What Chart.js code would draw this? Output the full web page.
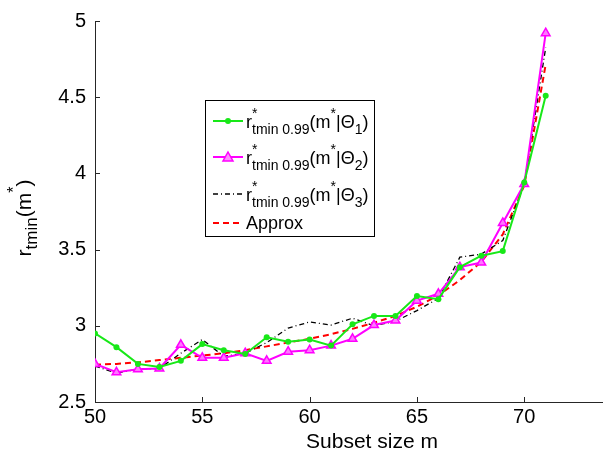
<!DOCTYPE html>
<html><head><meta charset="utf-8">
<script src="https://cdn.jsdelivr.net/npm/chart.js@4"></script>
<style>html,body{margin:0;padding:0;background:#fff;}#wrap{width:603px;height:461px;position:relative;}</style>
</head><body><div id="wrap"><canvas id="c" width="603" height="461"></canvas></div>
<script>
const subsetSizes = [50,51,52,53,54,55,56,57,58,59,60,61,62,63,64,65,66,67,68,69,70,71];
const theta1 = [2.95,2.86,2.75,2.73,2.77,2.88,2.84,2.815,2.925,2.895,2.91,2.87,3.01,3.065,3.065,3.195,3.175,3.385,3.46,3.49,3.94,4.51];
const theta2 = [2.75,2.695,2.715,2.72,2.875,2.79,2.79,2.82,2.77,2.83,2.84,2.87,2.915,3.005,3.035,3.165,3.21,3.385,3.415,3.675,3.93,4.92];
const theta3 = [2.735,2.69,2.715,2.72,2.82,2.91,2.80,2.82,2.89,2.985,3.025,3.005,3.05,3.0,3.03,3.10,3.18,3.45,3.47,3.56,3.93,4.825];
const approx = [2.745,2.75,2.76,2.775,2.79,2.805,2.82,2.84,2.865,2.89,2.915,2.945,2.98,3.02,3.065,3.125,3.2,3.3,3.42,3.6,3.92,4.715];
const xTicks = [50,55,60,65,70];
const yTicks = [2.5,3,3.5,4,4.5,5];
const xTitle = 'Subset size m';
const approxLabel = 'Approx';

const FONT = '"Liberation Sans", Arial, Helvetica, sans-serif';
const GREEN = 'rgb(24,232,24)';
const MAGENTA = 'rgb(255,0,255)';
const toXY = arr => arr.map((v,i)=>({x:subsetSizes[i], y:v}));

function drawRich(ctx, parts, x, y){
  let cx = x;
  for(const p of parts){
    ctx.font = p.size + 'px ' + FONT;
    ctx.fillText(p.t, cx, y + (p.dy||0));
    if(!p.noAdv) cx += ctx.measureText(p.t).width;
  }
  return cx;
}
function richWidth(ctx, parts){
  let w=0;
  for(const p of parts){ ctx.font = p.size+'px '+FONT; if(!p.noAdv) w += ctx.measureText(p.t).width; }
  return w;
}
function entryParts(n){
  return [
    {t:'r',size:18},
    {t:'*',size:14,dy:-10,noAdv:true},
    {t:'tmin 0.99',size:14,dy:6},
    {t:'(m',size:18},
    {t:'*',size:14,dy:-10},
    {t:'|\u0398',size:18},
    {t:String(n),size:14,dy:6},
    {t:')',size:18}
  ];
}

const decor = {
  id:'decor',
  afterDraw(chart){
    const ctx = chart.ctx;
    const xs = chart.scales.x, ys = chart.scales.y;
    const a = chart.chartArea;
    ctx.save();
    // inward ticks
    ctx.strokeStyle = '#262626'; ctx.lineWidth = 1;
    ctx.beginPath();
    for(const t of xTicks){ const px = Math.round(xs.getPixelForValue(t))+0.5; ctx.moveTo(px, a.bottom); ctx.lineTo(px, a.bottom-5); }
    for(const t of yTicks){ const py = Math.round(ys.getPixelForValue(t))+0.5; ctx.moveTo(a.left, py); ctx.lineTo(a.left+5, py); }
    ctx.stroke();
    // x title
    ctx.fillStyle = '#000';
    ctx.font = '21px ' + FONT;
    ctx.textAlign = 'center'; ctx.textBaseline = 'alphabetic';
    ctx.fillText(xTitle, 372, 448);
    // y title rotated
    ctx.textAlign = 'left';
    const yparts = [
      {t:'r',size:21},
      {t:'tmin',size:17,dy:6},
      {t:'(m',size:21},
      {t:'*',size:16,dy:-12},
      {t:')',size:21}
    ];
    const w = richWidth(ctx, yparts);
    ctx.save();
    ctx.translate(31, 218);
    ctx.rotate(-Math.PI/2);
    drawRich(ctx, yparts, -w/2, 0);
    ctx.restore();
    // legend
    const L = 205.5, T = 100.5, R = 374.5, B = 236.5;
    ctx.fillStyle = '#fff';
    ctx.fillRect(L, T, R-L, B-T);
    ctx.strokeStyle = '#000'; ctx.lineWidth = 1;
    ctx.strokeRect(L, T, R-L, B-T);
    const rows = [
      {ly:121, ty:128, color:GREEN, dash:[], lw:2, marker:'dot', parts:entryParts(1)},
      {ly:157, ty:164, color:MAGENTA, dash:[], lw:2, marker:'tri', parts:entryParts(2)},
      {ly:194, ty:201, color:'#000', dash:[5,3,1,3], lw:1.3, marker:null, parts:entryParts(3)},
      {ly:223, ty:229, color:'rgb(255,0,0)', dash:[6,4], lw:2, marker:null, parts:[{t:approxLabel,size:18}]}
    ];
    for(const r of rows){
      ctx.strokeStyle = r.color; ctx.lineWidth = r.lw; ctx.setLineDash(r.dash);
      ctx.beginPath(); ctx.moveTo(213, r.ly); ctx.lineTo(243, r.ly); ctx.stroke();
      ctx.setLineDash([]);
      if(r.marker==='dot'){ ctx.fillStyle=r.color; ctx.beginPath(); ctx.arc(228, r.ly, 3, 0, Math.PI*2); ctx.fill(); }
      if(r.marker==='tri'){ ctx.strokeStyle=r.color; ctx.fillStyle='rgba(255,140,255,1)'; ctx.lineWidth=1.5; ctx.beginPath(); ctx.moveTo(228, r.ly-5); ctx.lineTo(233, r.ly+4); ctx.lineTo(223, r.ly+4); ctx.closePath(); ctx.fill(); ctx.stroke(); }
      ctx.fillStyle = '#000';
      drawRich(ctx, r.parts, 246, r.ty);
    }
    ctx.restore();
  }
};

new Chart(document.getElementById('c'), {
  type:'line',
  data:{
    datasets:[
      {label:'theta1', data:toXY(theta1), borderColor:GREEN, backgroundColor:GREEN, borderWidth:2, pointRadius:3, pointStyle:'circle', pointBorderWidth:0, tension:0},
      {label:'theta2', data:toXY(theta2), borderColor:MAGENTA, backgroundColor:'rgb(255,120,255)', borderWidth:2, pointRadius:5, pointStyle:'triangle', pointBorderWidth:1.5, tension:0},
      {label:'theta3', data:toXY(theta3), borderColor:'#000', borderWidth:1.3, borderDash:[5,3,1,3], pointRadius:0, tension:0},
      {label:approxLabel, data:toXY(approx), borderColor:'rgb(255,0,0)', borderWidth:2, borderDash:[6,4], pointRadius:0, tension:0}
    ]
  },
  options:{
    responsive:false, animation:false, devicePixelRatio:1,
    layout:{autoPadding:false, padding:{top:16,right:0,left:0,bottom:0}},
    plugins:{legend:{display:false}, tooltip:{enabled:false}},
    scales:{
      x:{type:'linear', min:50, max:73.67,
        afterBuildTicks(s){ s.ticks = xTicks.map(v=>({value:v})); },
        afterFit(s){ s.height = 59; s.paddingRight = 0; s.paddingLeft = 0; },
        grid:{display:true, drawOnChartArea:false, drawTicks:false},
        border:{display:true, color:'#262626', width:1},
        ticks:{color:'#000', font:{family:FONT, size:20}, padding:3, maxRotation:0, autoSkip:false}
      },
      y:{type:'linear', min:2.5, max:5,
        afterBuildTicks(s){ s.ticks = yTicks.map(v=>({value:v})); },
        afterFit(s){ s.width = 95; },
        grid:{display:true, drawOnChartArea:false, drawTicks:false},
        border:{display:true, color:'#262626', width:1},
        ticks:{color:'#000', font:{family:FONT, size:20}, padding:9, callback:(v)=>String(v)}
      }
    }
  },
  plugins:[decor]
});
</script></body></html>
